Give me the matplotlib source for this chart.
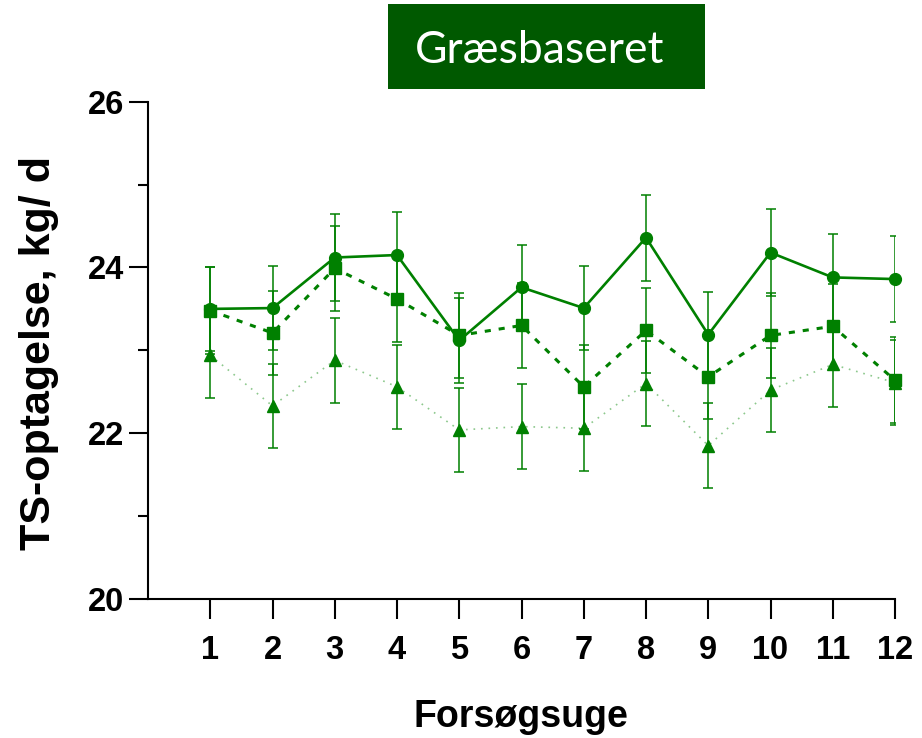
import matplotlib
matplotlib.use("Agg")
import matplotlib.pyplot as plt
from matplotlib.patches import Rectangle

# weeks and mean intake per series (kg DM/d)
uge = [1, 2, 3, 4, 5, 6, 7, 8, 9, 10, 11, 12]
cirkel = [23.50, 23.51, 24.12, 24.15, 23.12, 23.76, 23.51, 24.36, 23.19, 24.18, 23.88, 23.86]
firkant = [23.48, 23.21, 23.99, 23.62, 23.18, 23.30, 22.56, 23.24, 22.68, 23.18, 23.29, 22.64]
trekant = [22.94, 22.33, 22.88, 22.56, 22.04, 22.08, 22.06, 22.60, 21.85, 22.52, 22.83, 22.61]

# standard errors
se_cirkel = [0.51, 0.51, 0.52, 0.52, 0.51, 0.51, 0.51, 0.52, 0.51, 0.52, 0.52, 0.52]
se_firkant = [0.52, 0.51, 0.51, 0.52, 0.51, 0.51, 0.51, 0.51, 0.51, 0.51, 0.51, 0.52]
se_trekant = [0.51, 0.51, 0.51, 0.51, 0.51, 0.51, 0.51, 0.51, 0.51, 0.51, 0.51, 0.51]

yticks = [20, 22, 24, 26]
minor_yticks = [21, 23, 25]

green = "#008000"

plt.rcParams['font.family'] = ['Liberation Sans', 'DejaVu Sans']

fig = plt.figure(figsize=(9.22, 7.38), dpi=100)
ax = fig.add_axes([148 / 922, 1 - 599 / 738, (895 - 148) / 922, (599 - 101.7) / 738])

def serie(y, se, marker, ms, ls, lw, lcolor, dashes=None):
    # line first, then error bars + markers on top
    line, = ax.plot(uge, y, linestyle=ls, linewidth=lw, color=lcolor, zorder=2)
    if dashes is not None:
        line.set_dashes(dashes)
    line.set_clip_on(False)
    eb = ax.errorbar(uge, y, yerr=se, fmt=marker, color=green, markersize=ms,
                     ecolor=green, elinewidth=1.1, capsize=3.4, capthick=1.1,
                     zorder=3)
    eb[0].set_clip_on(False)

serie(trekant, se_trekant, '^', 8.5, ':', 1.2, '#8cc88c', dashes=(1, 3.5))
serie(cirkel, se_cirkel, 'o', 8.5, '-', 1.9, green)
serie(firkant, se_firkant, 's', 8, '--', 2.2, green, dashes=(2, 2.6))

ax.set_xlim(0, 12)
ax.set_ylim(20, 26)
ax.set_xticks(uge)
ax.set_yticks(yticks)
ax.set_yticks(minor_yticks, minor=True)

for s in ['top', 'right']:
    ax.spines[s].set_visible(False)
for s in ['left', 'bottom']:
    ax.spines[s].set_linewidth(1.5)

ax.tick_params(axis='x', length=14.4, width=1.5, pad=11.5, labelsize=23.5)
ax.tick_params(axis='y', which='major', length=13.7, width=1.5, pad=3.5, labelsize=23.5)
ax.tick_params(axis='y', which='minor', length=7, width=1.5)
for lab in ax.get_xticklabels() + ax.get_yticklabels():
    lab.set_fontweight('bold')

fig.text(39 / 922, 1 - 353 / 738, 'TS-optagelse, kg/ d', rotation=90,
         ha='center', va='center', fontsize=31, fontweight='bold')
fig.text(521 / 922, 1 - 727 / 738, 'Forsøgsuge', ha='center', va='baseline',
         fontsize=27, fontweight='bold')

# title box
fig.patches.append(Rectangle((388 / 922, 1 - 89 / 738), (705 - 388) / 922, 85 / 738,
                             transform=fig.transFigure, facecolor='#005900',
                             edgecolor='none'))
fig.text(540 / 922, 1 - 63 / 738, 'Græsbaseret', ha='center', va='baseline',
         color='white', fontsize=32, family=['Lato', 'DejaVu Sans'], fontweight='normal')

fig.savefig('out.png', dpi=100)
